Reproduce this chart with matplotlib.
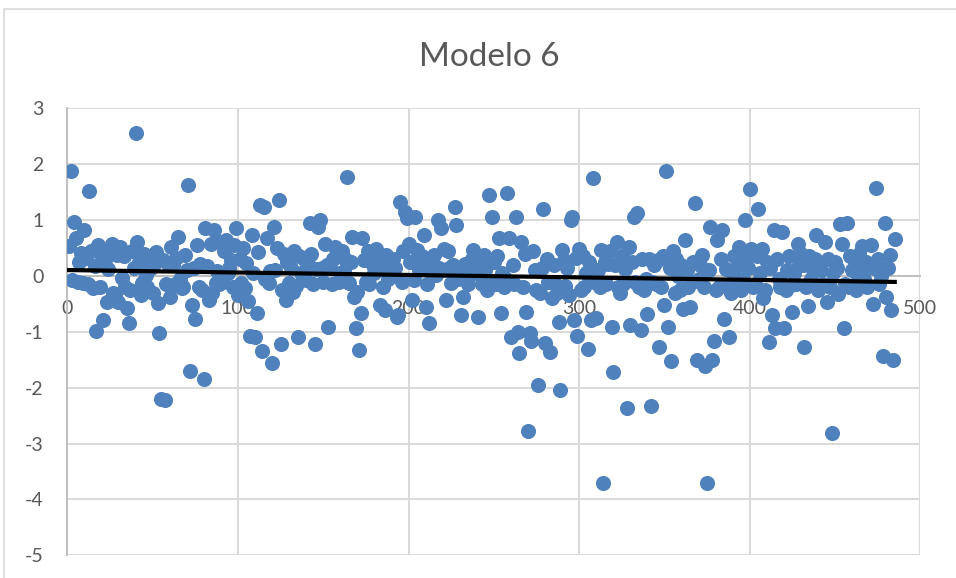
import matplotlib.pyplot as plt
import numpy as np
from matplotlib.patches import Rectangle

plt.rcParams['font.family'] = ['Lato', 'DejaVu Sans']
plt.rcParams['axes.unicode_minus'] = False

title = "Modelo 6"
x_ticks = [0, 100, 200, 300, 400, 500]
y_ticks = [3, 2, 1, 0, -1, -2, -3, -4, -5]

# residuos, en orden de observación (1..485)
residuos = [
    0.54, 1.88, -0.07, 0.97, 0.67, -0.10, 0.25, 0.41, -0.12, 0.82,
    0.32, -0.15, 1.52, 0.45, -0.22, 0.18, -0.98, 0.55, -0.19, 0.40,
    -0.79, 0.28, -0.46, 0.12, 0.48, 0.58, -0.30, -0.35, 0.38, -0.46,
    0.52, -0.04, 0.35, -0.20, -0.58, -0.85, -0.25, 0.45, 0.15, 2.56,
    0.61, 0.25, -0.34, -0.12, 0.40, 0.02, -0.19, 0.30, 0.15, -0.30,
    0.22, 0.42, -0.49, -1.03, -2.20, 0.29, -2.22, -0.15, 0.22, -0.37,
    0.52, 0.20, -0.15, 0.32, 0.69, -0.05, -0.22, -0.19, 0.38, 0.10,
    1.63, -1.71, -0.52, 0.15, -0.77, 0.55, -0.20, 0.22, -0.25, -1.85,
    0.85, 0.18, -0.43, 0.58, -0.30, 0.82, -0.12, 0.08, -0.15, 0.60,
    -0.10, 0.45, 0.64, 0.05, 0.14, 0.28, -0.20, 0.55, 0.85, -0.34,
    0.30, -0.13, 0.50, -0.22, 0.23, -0.45, -1.07, 0.73, 0.06, -1.10,
    -0.67, 0.42, 1.27, -1.34, 1.24, -0.05, 0.67, -0.13, 0.08, -1.55,
    0.88, 0.10, 0.50, 1.36, -1.22, -0.25, 0.40, -0.43, 0.25, -0.12,
    0.15, -0.28, 0.45, -0.18, -1.10, 0.35, 0.05, -0.05, 0.30, -0.07,
    0.22, 0.95, 0.40, -0.15, -1.22, 0.12, 0.88, 1.00, 0.15, -0.10,
    0.58, 0.20, -0.91, 0.15, -0.15, 0.30, 0.52, 0.35, -0.10, 0.05,
    0.45, 0.08, 0.30, 1.77, -0.12, 0.25, 0.70, -0.37, -0.94, -0.28,
    -1.32, -0.67, 0.67, 0.28, -0.10, 0.45, -0.15, 0.35, 0.20, 0.05,
    0.49, 0.15, -0.52, 0.30, -0.19, -0.61, 0.38, -0.05, 0.22, 0.05,
    0.30, 0.14, -0.73, -0.70, 1.33, -0.10, 0.45, 1.15, 1.03, 0.58,
    0.25, -0.43, -0.08, 1.06, 0.47, 0.10, 0.15, 0.35, 0.73, -0.55,
    -0.15, -0.84, 0.30, 0.10, 0.38, 0.02, 1.00, 0.15, 0.85, 0.10,
    0.49, -0.43, 0.45, 0.15, -0.12, 0.20, 1.24, 0.91, -0.05, 0.10,
    -0.70, -0.37, 0.22, 0.10, -0.15, 0.05, 0.30, 0.47, 0.05, 0.10,
    -0.73, 0.20, -0.15, 0.38, 0.10, -0.25, 1.45, -0.10, 1.06, 0.25,
    -0.15, 0.35, 0.67, -0.67, 0.05, -0.20, -0.05, 1.48, 0.67, -1.09,
    0.20, -0.15, 1.05, -1.00, -1.38, 0.61, -0.20, 0.40, -0.65, -2.77,
    -1.03, -1.17, 0.44, 0.10, -0.25, -1.95, -0.31, 0.15, 1.19, -1.20,
    0.30, -0.10, -1.37, -0.40, 0.20, -0.15, -0.30, -0.82, -2.04, 0.47,
    0.28, -0.18, 0.15, -0.35, 1.00, 1.05, -0.79, 0.32, -1.07, 0.49,
    -0.25, 0.35, -0.20, 0.05, -1.31, 0.25, -0.79, 1.75, -0.10, -0.76,
    0.10, -0.20, 0.47, -3.70, 0.25, -0.15, 0.22, 0.44, -0.91, -1.72,
    0.20, 0.61, -0.20, -0.30, 0.35, -0.15, 0.12, -2.37, 0.52, -0.88,
    0.25, 1.06, -0.10, 1.13, -0.20, -0.97, 0.30, -0.25, -0.05, -0.68,
    0.30, -2.33, -0.10, 0.20, -0.15, 0.28, -1.27, -0.20, 0.35, -0.52,
    1.88, -0.91, 0.15, -1.53, 0.44, -0.30, 0.30, 0.00, -0.25, 0.20,
    -0.60, 0.64, 0.10, -0.20, -0.55, -0.10, 0.25, 1.31, -1.50, -0.05,
    0.20, 0.38, -0.19, -1.62, -3.71, 0.10, 0.87, -1.51, -1.17, -0.25,
    0.64, -0.20, 0.30, 0.82, -0.77, 0.12, -0.20, -1.09, -0.31, 0.05,
    0.35, -0.10, 0.20, 0.52, -0.25, -0.05, 1.00, 0.30, 0.15, 1.55,
    0.49, -0.20, -0.15, 0.35, 1.20, 0.05, 0.49, -0.40, -0.25, 0.25,
    -1.19, 0.15, -0.70, 0.82, -0.93, 0.30, -0.05, -0.19, 0.79, -0.93,
    -0.25, 0.10, 0.35, -0.17, -0.65, 0.05, -0.15, 0.58, 0.20, 0.40,
    0.20, -1.28, -0.20, -0.53, 0.35, -0.05, 0.10, 0.30, 0.73, -0.25,
    0.20, 0.10, -0.15, 0.61, -0.46, 0.30, -0.20, -2.81, 0.05, 0.25,
    0.15, -0.32, 0.93, 0.57, -0.94, -0.15, 0.94, -0.20, 0.35, 0.10,
    0.30, -0.25, -0.10, 0.40, 0.10, 0.53, -0.05, 0.25, -0.20, 0.20,
    0.55, -0.51, 0.15, 1.57, 0.30, -0.15, 0.00, -1.44, 0.95, -0.37,
    0.15, 0.38, -0.61, -1.50, 0.66,
]
obs = np.arange(1, len(residuos) + 1)

fig = plt.figure(figsize=(9.56, 5.78), dpi=100)
ax = fig.add_axes([0.0704, 0.0393, 0.8923, 0.7733])

# marco del gráfico
fig.patches.append(Rectangle((4 / 956, -0.1), 1.2, 1.1 - 9 / 578, transform=fig.transFigure,
                             fill=False, edgecolor='#D9D9D9', linewidth=1.2))

ax.scatter(obs, residuos, s=118, color='#4F81BD', linewidths=0, zorder=3)

# línea de tendencia lineal
m, b = np.polyfit(obs, residuos, 1)
xt = np.array([obs.min(), obs.max()])
ax.plot(xt, m * xt + b, color='black', linewidth=3, zorder=4)

ax.set_xlim(0, 500)
ax.set_ylim(-5, 3)
ax.set_xticks(x_ticks)
ax.set_yticks(y_ticks)
ax.grid(True, color='#D9D9D9', linewidth=1.4, zorder=0)
ax.set_axisbelow(True)

for s in ['top', 'right']:
    ax.spines[s].set_visible(False)
ax.spines['left'].set_color('#BFBFBF')
ax.spines['left'].set_linewidth(1.4)
ax.spines['bottom'].set_position(('data', 0))
ax.spines['bottom'].set_color('#BFBFBF')
ax.spines['bottom'].set_linewidth(1.4)

ax.tick_params(axis='both', length=0, labelsize=14, labelcolor='#595959')
ax.tick_params(axis='x', pad=17)
ax.tick_params(axis='y', pad=17)

fig.text(0.512, 0.902, title, ha='center', va='center', fontsize=24, color='#595959')

fig.savefig('out.png', dpi=100)
